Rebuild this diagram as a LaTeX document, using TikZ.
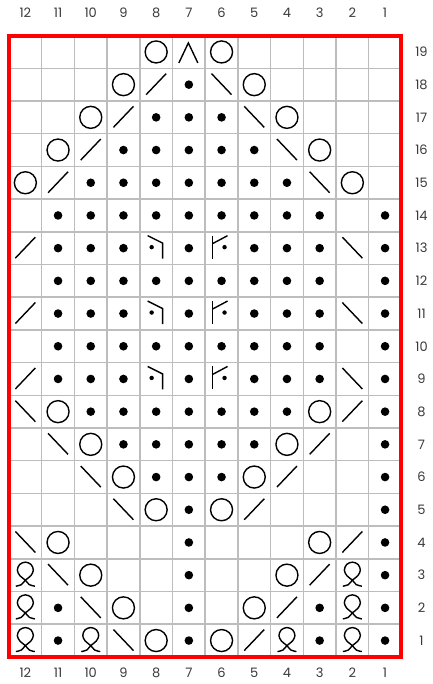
\documentclass[tikz,border=0pt]{standalone}
\usepackage{fontspec}
\setmainfont{Poppins}
\definecolor{gridgray}{HTML}{BDBDBD}
\definecolor{labelgray}{HTML}{3A3A3A}
\tikzset{
  sym/.style={draw=black, line width=1.4pt},
  gridline/.style={draw=gridgray, line width=1.5pt},
  frame/.style={draw=red, line width=4pt},
  numlabel/.style={font=\fontsize{13}{15}\selectfont, text=labelgray, inner sep=0pt},
  pics/yo/.style={code={\draw[sym] (0,0) circle (11);}},
  pics/purl/.style={code={\fill[black] (0,0) circle (4.3);}},
  pics/ktog/.style={code={\draw[sym] (-10,10) -- (10,-11);}},
  pics/sskk/.style={code={\draw[sym] (-10,-11) -- (10,10);}},
  pics/cdd/.style={code={\draw[sym] (-10,11) -- (-0.5,-9) -- (9,11);}},
  pics/tbl/.style={code={\draw[sym] plot[smooth, tension=0.55] coordinates {(9.5,11) (4,9.5) (0,5) (-5.5,0.5) (-8,-5) (-5.7,-10.7) (0,-13) (5.7,-10.7) (8,-5) (5.5,0.5) (0,5) (-4,9.5) (-9.5,11)};}},
  pics/lcr/.style={code={\draw[sym] (-8.5,-12.5) -- (6.5,-5) -- (6.5,10.5); \fill[black] (-4.5,-1) circle (2.2);}},
  pics/rcr/.style={code={\draw[sym] (-9,-12.5) -- (-9,10.5); \draw[sym] (-9,-4.5) -- (6,-12.5); \fill[black] (3,-1) circle (2.2);}},
}
\begin{document}
\begin{tikzpicture}[x=1pt,y=-1pt]
\useasboundingbox (0,0) rectangle (432,684);
\fill[white] (0,0) rectangle (432,684);
% grid
\foreach \i in {1,...,11} \draw[gridline] ({9+\i*32.7},35.6) -- ({9+\i*32.7},656.9);
\foreach \j in {1,...,18} \draw[gridline] (9,{35.6+\j*32.7}) -- (401.4,{35.6+\j*32.7});
% purl ranges
\foreach \r/\a/\b in {18/7/7,17/6/8,16/5/9,15/4/10,14/3/11,13/9/11,13/7/7,13/3/5,12/3/11,11/9/11,11/7/7,11/3/5,10/3/11,9/9/11,9/7/7,9/3/5,8/4/10,7/5/9,6/6/8,5/7/7,4/7/7,3/7/7,2/7/7,2/11/11,2/3/3,1/7/7,1/11/11,1/3/3}
  \foreach \c in {\a,...,\b} \pic at ({9+(12.5-\c)*32.7},{35.6+(19.5-\r)*32.7}) {purl};
\foreach \r in {1,...,14} \pic at ({9+(12.5-1)*32.7},{35.6+(19.5-\r)*32.7}) {purl};
% other symbols
\foreach \c/\r/\s in {8/19/yo,7/19/cdd,6/19/yo,
  9/18/yo,8/18/ktog,6/18/sskk,5/18/yo,
  10/17/yo,9/17/ktog,5/17/sskk,4/17/yo,
  11/16/yo,10/16/ktog,4/16/sskk,3/16/yo,
  12/15/yo,11/15/ktog,3/15/sskk,2/15/yo,
  12/13/ktog,8/13/lcr,6/13/rcr,2/13/sskk,
  12/11/ktog,8/11/lcr,6/11/rcr,2/11/sskk,
  12/9/ktog,8/9/lcr,6/9/rcr,2/9/sskk,
  12/8/sskk,11/8/yo,3/8/yo,2/8/ktog,
  11/7/sskk,10/7/yo,4/7/yo,3/7/ktog,
  10/6/sskk,9/6/yo,5/6/yo,4/6/ktog,
  9/5/sskk,8/5/yo,6/5/yo,5/5/ktog,
  12/4/sskk,11/4/yo,3/4/yo,2/4/ktog,
  12/3/tbl,11/3/sskk,10/3/yo,4/3/yo,3/3/ktog,2/3/tbl,
  12/2/tbl,10/2/sskk,9/2/yo,5/2/yo,4/2/ktog,2/2/tbl,
  12/1/tbl,10/1/tbl,9/1/sskk,8/1/yo,6/1/yo,5/1/ktog,4/1/tbl,2/1/tbl}
  \pic at ({9+(12.5-\c)*32.7},{35.6+(19.5-\r)*32.7}) {\s};
% frame
\draw[frame] (9,35.6) rectangle (401.4,656.9);
% labels
\foreach \c in {1,...,12} {
  \node[numlabel] (top\c) at ({9+(12.5-\c)*32.7},12.5) {\c};
  \node[numlabel] (bot\c) at ({9+(12.5-\c)*32.7},672.5) {\c};
}
\foreach \r in {1,...,19}
  \node[numlabel] (row\r) at (421.5,{35.6+(19.5-\r)*32.7}) {\r};
\end{tikzpicture}
\end{document}
